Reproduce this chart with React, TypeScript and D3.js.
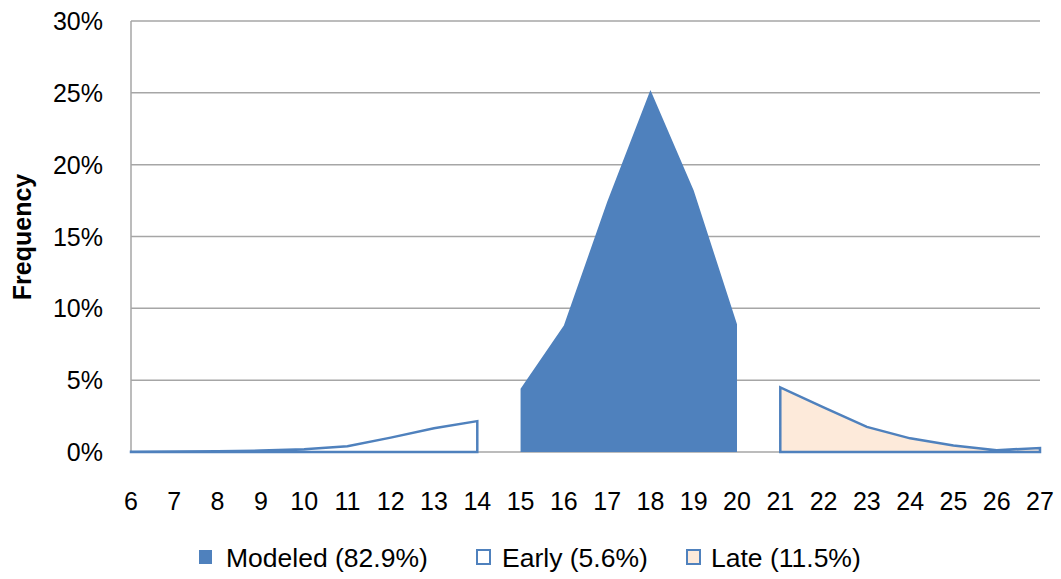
import React from "react";
import * as d3 from "d3";

// Frequency (%) by value, split into three groups
const earlyX = [6, 7, 8, 9, 10, 11, 12, 13, 14];
const earlyY = [0.02, 0.03, 0.06, 0.1, 0.2, 0.4, 1.0, 1.65, 2.15];

const modeledX = [15, 16, 17, 18, 19, 20];
const modeledY = [4.4, 8.8, 17.4, 25.2, 18.2, 8.9];

const lateX = [21, 22, 23, 24, 25, 26, 27];
const lateY = [4.5, 3.1, 1.75, 0.95, 0.45, 0.13, 0.28];

const xTicks = d3.range(6, 28);
const yTicks = [0, 5, 10, 15, 20, 25, 30];

const legendItems = [
  { label: "Modeled (82.9%)", fill: "#4F81BD", stroke: "#4F81BD", x: 198, tx: 226 },
  { label: "Early (5.6%)", fill: "#FFFFFF", stroke: "#4F81BD", x: 476, tx: 502 },
  { label: "Late (11.5%)", fill: "#FDEADA", stroke: "#4F81BD", x: 686, tx: 711 },
];

const W = 1061;
const H = 579;
const FONT = "'Liberation Sans', Arial, sans-serif";

export default function App() {
  const x = d3.scaleLinear().domain([6, 27]).range([131, 1040]);
  const y = d3.scaleLinear().domain([0, 30]).range([452, 21]);

  const area = d3
    .area<[number, number]>()
    .x((d) => x(d[0]))
    .y0(y(0))
    .y1((d) => y(d[1]));

  const zip = (xs: number[], ys: number[]) =>
    xs.map((v, i) => [v, ys[i]] as [number, number]);

  // closed outline: baseline -> values -> back down to baseline
  const outline = (xs: number[], ys: number[]) => {
    const pts: [number, number][] = [
      [x(xs[0]), y(0)],
      ...xs.map((v, i) => [x(v), y(ys[i])] as [number, number]),
      [x(xs[xs.length - 1]), y(0)],
    ];
    return d3.line()(pts) + "Z";
  };

  return (
    <svg
      width={W}
      height={H}
      style={{ position: "absolute", left: 0, top: 0, background: "#fff" }}
      fontFamily={FONT}
    >
      {/* gridlines */}
      {yTicks.map((t) => (
        <line
          key={t}
          x1={x(6)}
          x2={x(27)}
          y1={y(t)}
          y2={y(t)}
          stroke="#A6A6A6"
          strokeWidth={1.5}
        />
      ))}
      <line x1={x(6)} x2={x(6)} y1={y(30)} y2={y(0)} stroke="#A6A6A6" strokeWidth={1.5} />

      {/* modeled */}
      <path d={area(zip(modeledX, modeledY)) || ""} fill="#4F81BD" />

      {/* early */}
      <path
        d={outline(earlyX, earlyY)}
        fill="#FFFFFF"
        stroke="#4F81BD"
        strokeWidth={2.5}
        strokeLinejoin="miter"
      />

      {/* late */}
      <path
        d={outline(lateX, lateY)}
        fill="#FDEADA"
        stroke="#4F81BD"
        strokeWidth={2.5}
        strokeLinejoin="miter"
      />

      {/* y tick labels */}
      {yTicks.map((t) => (
        <text
          key={t}
          x={103}
          y={y(t) + 9}
          textAnchor="end"
          fontSize={25}
          fill="#000"
        >
          {t}%
        </text>
      ))}

      {/* x tick labels */}
      {xTicks.map((t) => (
        <text key={t} x={x(t)} y={510} textAnchor="middle" fontSize={25} fill="#000">
          {t}
        </text>
      ))}

      {/* y axis title */}
      <text
        transform={`translate(31,237) rotate(-90)`}
        textAnchor="middle"
        fontSize={25}
        fontWeight="bold"
        fill="#000"
      >
        Frequency
      </text>

      {/* legend */}
      {legendItems.map((it) => (
        <g key={it.label}>
          <rect
            x={it.x + 1}
            y={550}
            width={13}
            height={14}
            fill={it.fill}
            stroke={it.stroke}
            strokeWidth={it.fill === it.stroke ? 0 : 2}
          />
          <text x={it.tx} y={567} fontSize={26.5} fill="#000">
            {it.label}
          </text>
        </g>
      ))}
    </svg>
  );
}
